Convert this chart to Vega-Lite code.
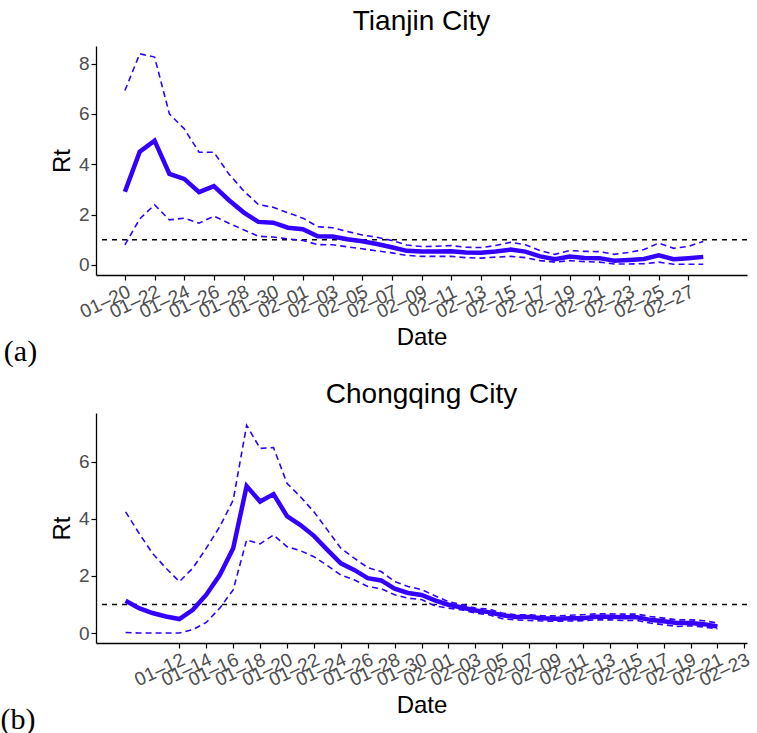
{
  "$schema": "https://vega.github.io/schema/vega-lite/v6.json",
  "background": "white",
  "padding": {"left": 0, "top": 8, "right": 8, "bottom": 0},
  "datasets": {
    "tianjin": [
      {"date": "2020-01-20", "rt": 2.91, "lo": 0.80, "hi": 6.93},
      {"date": "2020-01-21", "rt": 4.50, "lo": 1.83, "hi": 8.39},
      {"date": "2020-01-22", "rt": 4.94, "lo": 2.39, "hi": 8.26},
      {"date": "2020-01-23", "rt": 3.62, "lo": 1.79, "hi": 6.00},
      {"date": "2020-01-24", "rt": 3.42, "lo": 1.86, "hi": 5.41},
      {"date": "2020-01-25", "rt": 2.89, "lo": 1.66, "hi": 4.48},
      {"date": "2020-01-26", "rt": 3.13, "lo": 1.94, "hi": 4.48},
      {"date": "2020-01-27", "rt": 2.58, "lo": 1.66, "hi": 3.62},
      {"date": "2020-01-28", "rt": 2.09, "lo": 1.40, "hi": 2.95},
      {"date": "2020-01-29", "rt": 1.71, "lo": 1.14, "hi": 2.40},
      {"date": "2020-01-30", "rt": 1.68, "lo": 1.11, "hi": 2.29},
      {"date": "2020-01-31", "rt": 1.48, "lo": 1.03, "hi": 2.07},
      {"date": "2020-02-01", "rt": 1.42, "lo": 0.97, "hi": 1.86},
      {"date": "2020-02-02", "rt": 1.14, "lo": 0.81, "hi": 1.52},
      {"date": "2020-02-03", "rt": 1.13, "lo": 0.80, "hi": 1.48},
      {"date": "2020-02-04", "rt": 1.02, "lo": 0.72, "hi": 1.33},
      {"date": "2020-02-05", "rt": 0.94, "lo": 0.64, "hi": 1.19},
      {"date": "2020-02-06", "rt": 0.83, "lo": 0.56, "hi": 1.10},
      {"date": "2020-02-07", "rt": 0.70, "lo": 0.48, "hi": 0.97},
      {"date": "2020-02-08", "rt": 0.56, "lo": 0.38, "hi": 0.79},
      {"date": "2020-02-09", "rt": 0.53, "lo": 0.34, "hi": 0.73},
      {"date": "2020-02-10", "rt": 0.53, "lo": 0.34, "hi": 0.74},
      {"date": "2020-02-11", "rt": 0.54, "lo": 0.34, "hi": 0.77},
      {"date": "2020-02-12", "rt": 0.49, "lo": 0.29, "hi": 0.70},
      {"date": "2020-02-13", "rt": 0.48, "lo": 0.27, "hi": 0.69},
      {"date": "2020-02-14", "rt": 0.53, "lo": 0.31, "hi": 0.77},
      {"date": "2020-02-15", "rt": 0.61, "lo": 0.34, "hi": 0.90},
      {"date": "2020-02-16", "rt": 0.53, "lo": 0.29, "hi": 0.80},
      {"date": "2020-02-17", "rt": 0.34, "lo": 0.17, "hi": 0.57},
      {"date": "2020-02-18", "rt": 0.23, "lo": 0.11, "hi": 0.42},
      {"date": "2020-02-19", "rt": 0.33, "lo": 0.17, "hi": 0.57},
      {"date": "2020-02-20", "rt": 0.28, "lo": 0.13, "hi": 0.54},
      {"date": "2020-02-21", "rt": 0.27, "lo": 0.11, "hi": 0.53},
      {"date": "2020-02-22", "rt": 0.17, "lo": 0.04, "hi": 0.42},
      {"date": "2020-02-23", "rt": 0.20, "lo": 0.04, "hi": 0.50},
      {"date": "2020-02-24", "rt": 0.24, "lo": 0.05, "hi": 0.61},
      {"date": "2020-02-25", "rt": 0.38, "lo": 0.11, "hi": 0.87},
      {"date": "2020-02-26", "rt": 0.23, "lo": 0.03, "hi": 0.66},
      {"date": "2020-02-27", "rt": 0.27, "lo": 0.03, "hi": 0.74},
      {"date": "2020-02-28", "rt": 0.32, "lo": 0.03, "hi": 0.93}
    ],
    "chongqing": [
      {"date": "2020-01-08", "rt": 1.13, "lo": 0.02, "hi": 4.24},
      {"date": "2020-01-09", "rt": 0.87, "lo": 0.00, "hi": 3.49},
      {"date": "2020-01-10", "rt": 0.70, "lo": 0.00, "hi": 2.79},
      {"date": "2020-01-11", "rt": 0.58, "lo": 0.00, "hi": 2.27},
      {"date": "2020-01-12", "rt": 0.49, "lo": 0.00, "hi": 1.80},
      {"date": "2020-01-13", "rt": 0.81, "lo": 0.12, "hi": 2.27},
      {"date": "2020-01-14", "rt": 1.34, "lo": 0.37, "hi": 2.97},
      {"date": "2020-01-15", "rt": 2.03, "lo": 0.87, "hi": 3.72},
      {"date": "2020-01-16", "rt": 2.97, "lo": 1.51, "hi": 4.65},
      {"date": "2020-01-17", "rt": 5.14, "lo": 3.26, "hi": 7.27},
      {"date": "2020-01-18", "rt": 4.60, "lo": 3.12, "hi": 6.46},
      {"date": "2020-01-19", "rt": 4.86, "lo": 3.43, "hi": 6.49},
      {"date": "2020-01-20", "rt": 4.09, "lo": 3.02, "hi": 5.24},
      {"date": "2020-01-21", "rt": 3.78, "lo": 2.88, "hi": 4.77},
      {"date": "2020-01-22", "rt": 3.40, "lo": 2.67, "hi": 4.24},
      {"date": "2020-01-23", "rt": 2.91, "lo": 2.36, "hi": 3.61},
      {"date": "2020-01-24", "rt": 2.44, "lo": 2.03, "hi": 2.97},
      {"date": "2020-01-25", "rt": 2.21, "lo": 1.86, "hi": 2.62},
      {"date": "2020-01-26", "rt": 1.92, "lo": 1.63, "hi": 2.29},
      {"date": "2020-01-27", "rt": 1.84, "lo": 1.55, "hi": 2.15},
      {"date": "2020-01-28", "rt": 1.55, "lo": 1.34, "hi": 1.80},
      {"date": "2020-01-29", "rt": 1.40, "lo": 1.22, "hi": 1.63},
      {"date": "2020-01-30", "rt": 1.33, "lo": 1.17, "hi": 1.52},
      {"date": "2020-01-31", "rt": 1.14, "lo": 0.95, "hi": 1.30},
      {"date": "2020-02-01", "rt": 0.99, "lo": 0.87, "hi": 1.10},
      {"date": "2020-02-02", "rt": 0.89, "lo": 0.81, "hi": 0.99},
      {"date": "2020-02-03", "rt": 0.79, "lo": 0.70, "hi": 0.87},
      {"date": "2020-02-04", "rt": 0.73, "lo": 0.64, "hi": 0.84},
      {"date": "2020-02-05", "rt": 0.62, "lo": 0.50, "hi": 0.70},
      {"date": "2020-02-06", "rt": 0.56, "lo": 0.46, "hi": 0.64},
      {"date": "2020-02-07", "rt": 0.56, "lo": 0.44, "hi": 0.64},
      {"date": "2020-02-08", "rt": 0.52, "lo": 0.42, "hi": 0.60},
      {"date": "2020-02-09", "rt": 0.50, "lo": 0.41, "hi": 0.60},
      {"date": "2020-02-10", "rt": 0.52, "lo": 0.42, "hi": 0.62},
      {"date": "2020-02-11", "rt": 0.52, "lo": 0.43, "hi": 0.64},
      {"date": "2020-02-12", "rt": 0.57, "lo": 0.46, "hi": 0.67},
      {"date": "2020-02-13", "rt": 0.57, "lo": 0.46, "hi": 0.67},
      {"date": "2020-02-14", "rt": 0.55, "lo": 0.44, "hi": 0.66},
      {"date": "2020-02-15", "rt": 0.55, "lo": 0.44, "hi": 0.66},
      {"date": "2020-02-16", "rt": 0.46, "lo": 0.35, "hi": 0.58},
      {"date": "2020-02-17", "rt": 0.41, "lo": 0.29, "hi": 0.52},
      {"date": "2020-02-18", "rt": 0.35, "lo": 0.23, "hi": 0.46},
      {"date": "2020-02-19", "rt": 0.35, "lo": 0.25, "hi": 0.46},
      {"date": "2020-02-20", "rt": 0.31, "lo": 0.21, "hi": 0.43},
      {"date": "2020-02-21", "rt": 0.23, "lo": 0.14, "hi": 0.35}
    ],
    "threshold": [{"r": 1}]
  },
  "config": {
    "view": {"stroke": null},
    "font": "Liberation Sans",
    "axis": {
      "grid": false,
      "domainColor": "black",
      "domainWidth": 1.3,
      "tickColor": "black",
      "tickWidth": 1.2,
      "tickSize": 5,
      "labelColor": "#4d4d4d",
      "labelFont": "Liberation Sans",
      "labelFontSize": 19,
      "labelPadding": 2,
      "titleFont": "Liberation Sans",
      "titleFontSize": 24,
      "titleFontWeight": "normal",
      "titleColor": "black"
    },
    "title": {"font": "Liberation Sans", "fontWeight": "normal", "color": "black"}
  },
  "spacing": 14,
  "vconcat": [
    {
      "title": {"text": "(a)", "orient": "left", "anchor": "start", "angle": 0, "align": "right", "baseline": "top", "dy": -13, "font": "Liberation Serif", "fontSize": 30, "offset": -20},
      "vconcat": [
        {
          "title": {"text": "Tianjin City", "fontSize": 28, "offset": 10},
          "width": 651,
          "height": 229,
          "layer": [
            {
              "data": {"name": "threshold"},
              "mark": {"type": "rule", "color": "black", "strokeWidth": 1.5, "strokeDash": [5, 5]},
              "encoding": {"y": {"field": "r", "type": "quantitative", "scale": {"domain": [-0.4, 8.7], "nice": false, "zero": false}, "axis": {"title": "Rt", "values": [0, 2, 4, 6, 8], "titlePadding": 4}}}
            },
            {
              "data": {"name": "tianjin"},
              "encoding": {
                "x": {
                  "field": "date", "type": "temporal",
                  "scale": {"type": "utc", "domain": [
                    {"year": 2020, "month": 1, "date": 18, "hours": 1, "minutes": 12, "utc": true},
                    {"year": 2020, "month": 3, "date": 1, "hours": 22, "minutes": 48, "utc": true}
                  ]},
                  "axis": {
                    "title": "Date", "labelExpr": "utcFormat(datum.value, '%m–%d')",
                    "labelAngle": -25, "labelAlign": "right", "labelBaseline": "top",
                    "labelOverlap": false, "labelFlush": false, "labelBound": false, "titlePadding": 4,
                    "values": [
                      {"year": 2020, "month": 1, "date": 20, "utc": true},
                      {"year": 2020, "month": 1, "date": 22, "utc": true},
                      {"year": 2020, "month": 1, "date": 24, "utc": true},
                      {"year": 2020, "month": 1, "date": 26, "utc": true},
                      {"year": 2020, "month": 1, "date": 28, "utc": true},
                      {"year": 2020, "month": 1, "date": 30, "utc": true},
                      {"year": 2020, "month": 2, "date": 1, "utc": true},
                      {"year": 2020, "month": 2, "date": 3, "utc": true},
                      {"year": 2020, "month": 2, "date": 5, "utc": true},
                      {"year": 2020, "month": 2, "date": 7, "utc": true},
                      {"year": 2020, "month": 2, "date": 9, "utc": true},
                      {"year": 2020, "month": 2, "date": 11, "utc": true},
                      {"year": 2020, "month": 2, "date": 13, "utc": true},
                      {"year": 2020, "month": 2, "date": 15, "utc": true},
                      {"year": 2020, "month": 2, "date": 17, "utc": true},
                      {"year": 2020, "month": 2, "date": 19, "utc": true},
                      {"year": 2020, "month": 2, "date": 21, "utc": true},
                      {"year": 2020, "month": 2, "date": 23, "utc": true},
                      {"year": 2020, "month": 2, "date": 25, "utc": true},
                      {"year": 2020, "month": 2, "date": 27, "utc": true}
                    ]
                  }
                }
              },
              "layer": [
                {
                  "mark": {"type": "line", "color": "#3300ff", "strokeWidth": 1.6, "strokeDash": [6, 4]},
                  "encoding": {"y": {"field": "hi", "type": "quantitative"}}
                },
                {
                  "mark": {"type": "line", "color": "#3300ff", "strokeWidth": 1.6, "strokeDash": [6, 4]},
                  "encoding": {"y": {"field": "lo", "type": "quantitative"}}
                },
                {
                  "mark": {"type": "line", "color": "#3300ff", "strokeWidth": 4.5},
                  "encoding": {"y": {"field": "rt", "type": "quantitative"}}
                }
              ]
            }
          ]
        }
      ]
    },
    {
      "title": {"text": "(b)", "orient": "left", "anchor": "start", "angle": 0, "align": "right", "baseline": "top", "dy": -13, "font": "Liberation Serif", "fontSize": 30, "offset": -20},
      "vconcat": [
        {
          "title": {"text": "Chongqing City", "fontSize": 28, "offset": 4},
          "width": 651,
          "height": 230,
          "layer": [
            {
              "data": {"name": "threshold"},
              "mark": {"type": "rule", "color": "black", "strokeWidth": 1.5, "strokeDash": [5, 5]},
              "encoding": {"y": {"field": "r", "type": "quantitative", "scale": {"domain": [-0.35, 7.7], "nice": false, "zero": false}, "axis": {"title": "Rt", "values": [0, 2, 4, 6], "titlePadding": 4}}}
            },
            {
              "data": {"name": "chongqing"},
              "encoding": {
                "x": {
                  "field": "date", "type": "temporal",
                  "scale": {"type": "utc", "domain": [
                    {"year": 2020, "month": 1, "date": 5, "hours": 19, "minutes": 12, "utc": true},
                    {"year": 2020, "month": 2, "date": 23, "hours": 4, "minutes": 48, "utc": true}
                  ]},
                  "axis": {
                    "title": "Date", "labelExpr": "utcFormat(datum.value, '%m–%d')",
                    "labelAngle": -25, "labelAlign": "right", "labelBaseline": "top",
                    "labelOverlap": false, "labelFlush": false, "labelBound": false, "titlePadding": 4,
                    "values": [
                      {"year": 2020, "month": 1, "date": 12, "utc": true},
                      {"year": 2020, "month": 1, "date": 14, "utc": true},
                      {"year": 2020, "month": 1, "date": 16, "utc": true},
                      {"year": 2020, "month": 1, "date": 18, "utc": true},
                      {"year": 2020, "month": 1, "date": 20, "utc": true},
                      {"year": 2020, "month": 1, "date": 22, "utc": true},
                      {"year": 2020, "month": 1, "date": 24, "utc": true},
                      {"year": 2020, "month": 1, "date": 26, "utc": true},
                      {"year": 2020, "month": 1, "date": 28, "utc": true},
                      {"year": 2020, "month": 1, "date": 30, "utc": true},
                      {"year": 2020, "month": 2, "date": 1, "utc": true},
                      {"year": 2020, "month": 2, "date": 3, "utc": true},
                      {"year": 2020, "month": 2, "date": 5, "utc": true},
                      {"year": 2020, "month": 2, "date": 7, "utc": true},
                      {"year": 2020, "month": 2, "date": 9, "utc": true},
                      {"year": 2020, "month": 2, "date": 11, "utc": true},
                      {"year": 2020, "month": 2, "date": 13, "utc": true},
                      {"year": 2020, "month": 2, "date": 15, "utc": true},
                      {"year": 2020, "month": 2, "date": 17, "utc": true},
                      {"year": 2020, "month": 2, "date": 19, "utc": true},
                      {"year": 2020, "month": 2, "date": 21, "utc": true},
                      {"year": 2020, "month": 2, "date": 23, "utc": true}
                    ]
                  }
                }
              },
              "layer": [
                {
                  "mark": {"type": "line", "color": "#3300ff", "strokeWidth": 1.6, "strokeDash": [6, 4]},
                  "encoding": {"y": {"field": "hi", "type": "quantitative"}}
                },
                {
                  "mark": {"type": "line", "color": "#3300ff", "strokeWidth": 1.6, "strokeDash": [6, 4]},
                  "encoding": {"y": {"field": "lo", "type": "quantitative"}}
                },
                {
                  "mark": {"type": "line", "color": "#3300ff", "strokeWidth": 4.5},
                  "encoding": {"y": {"field": "rt", "type": "quantitative"}}
                }
              ]
            }
          ]
        }
      ]
    }
  ]
}
